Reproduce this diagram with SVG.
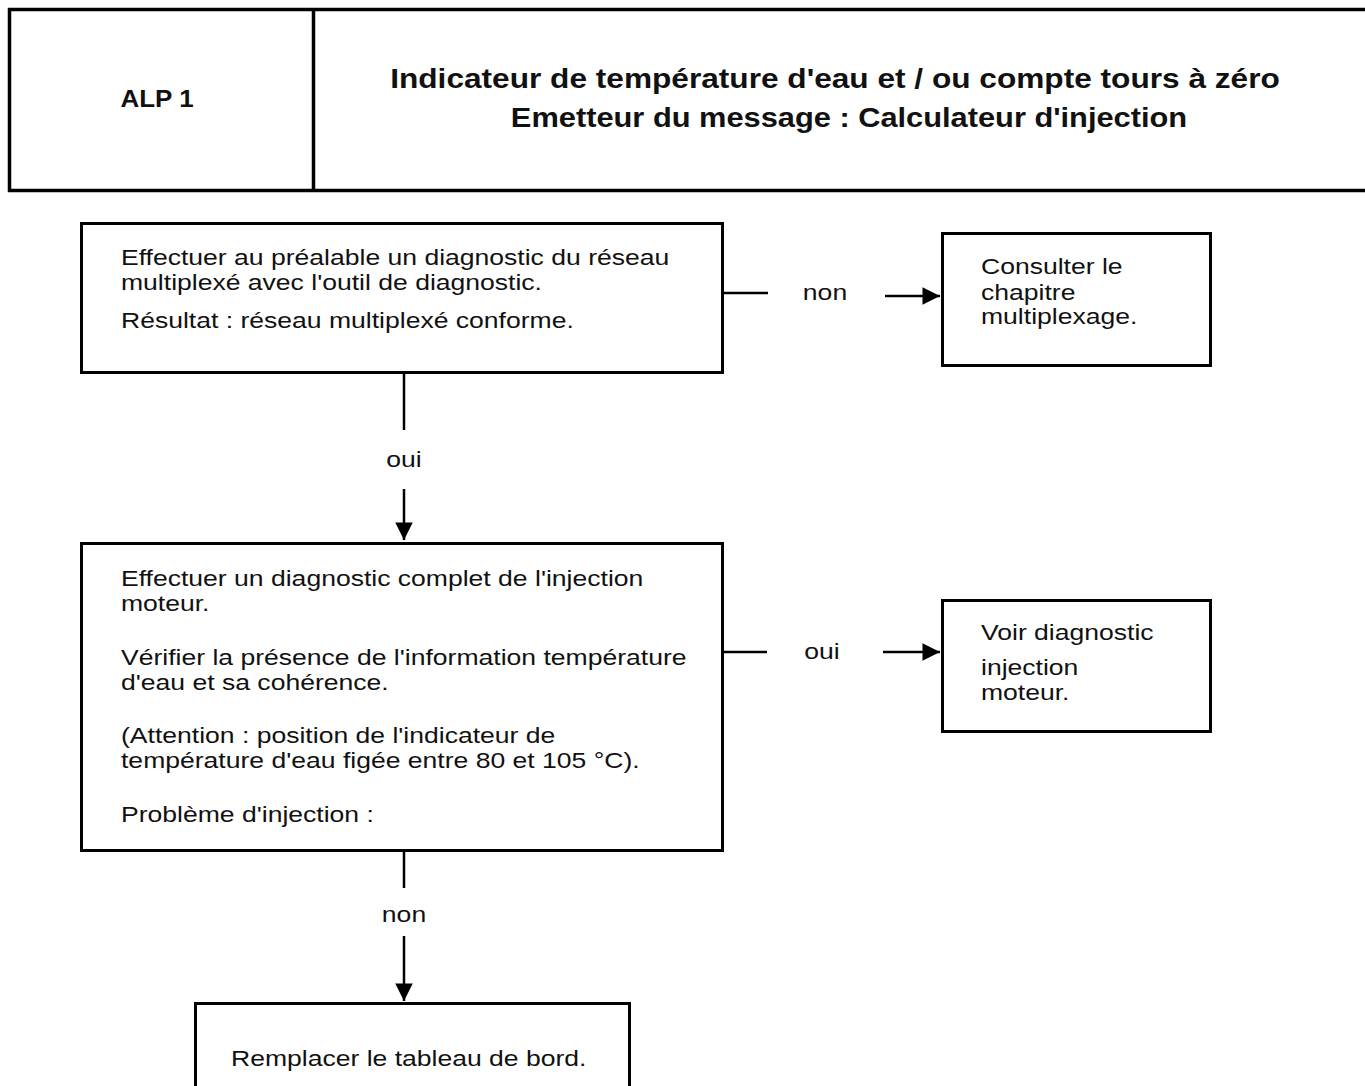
<svg xmlns="http://www.w3.org/2000/svg" width="1365" height="1086" viewBox="0 0 1365 1086">
  <style>
    .box { fill: #fff; stroke: #000; stroke-width: 3; }
    .hdr { fill: none; stroke: #000; stroke-width: 3.5; }
    .ln { stroke: #000; stroke-width: 2.5; fill: none; }
    .t { font-family: "Liberation Sans", Arial, sans-serif; font-size: 22.5px; fill: #111; }
    .h { font-family: "Liberation Sans", Arial, sans-serif; font-weight: bold; fill: #111; }
    .m { text-anchor: middle; }
  </style>
  <defs>
    <marker id="arrow" viewBox="0 0 10 10" refX="10" refY="5" markerWidth="7.2" markerHeight="7" markerUnits="strokeWidth" orient="auto">
      <path d="M0,0 L10,5 L0,10 z" fill="#000"/>
    </marker>
  </defs>
  <rect width="1365" height="1086" fill="#fff"/>

  <!-- title block; text is drawn slightly wide (scaled on x) -->
  <g id="header">
    <path class="hdr" d="M1368,9.5 H9.5 V190.5 H1368"/>
    <line class="hdr" x1="313.5" y1="9.5" x2="313.5" y2="190.5"/>
    <text class="h m" font-size="23" transform="translate(157 107) scale(1.13 1)">ALP 1</text>
    <text class="h m" font-size="28" transform="translate(835 88) scale(1.13 1)">Indicateur de température d'eau et / ou compte tours à zéro</text>
    <text class="h m" font-size="28" transform="translate(849 127) scale(1.10 1)">Emetteur du message : Calculateur d'injection</text>
  </g>

  <g id="n1">
    <rect class="box" x="81.5" y="223.5" width="641" height="149"/>
    <text class="t" transform="translate(121 265) scale(1.18 1)">Effectuer au préalable un diagnostic du réseau</text>
    <text class="t" transform="translate(121 290) scale(1.18 1)">multiplexé avec l'outil de diagnostic.</text>
    <text class="t" transform="translate(121 328) scale(1.18 1)">Résultat : réseau multiplexé conforme.</text>
  </g>

  <g id="n2">
    <rect class="box" x="942.5" y="233.5" width="268" height="132"/>
    <text class="t" transform="translate(981 274) scale(1.18 1)">Consulter le</text>
    <text class="t" transform="translate(981 300) scale(1.18 1)">chapitre</text>
    <text class="t" transform="translate(981 324) scale(1.18 1)">multiplexage.</text>
  </g>

  <g id="n3">
    <rect class="box" x="81.5" y="543.5" width="641" height="307"/>
    <text class="t" transform="translate(121 586) scale(1.18 1)">Effectuer un diagnostic complet de l'injection</text>
    <text class="t" transform="translate(121 611) scale(1.18 1)">moteur.</text>
    <text class="t" transform="translate(121 665) scale(1.18 1)">Vérifier la présence de l'information température</text>
    <text class="t" transform="translate(121 690) scale(1.18 1)">d'eau et sa cohérence.</text>
    <text class="t" transform="translate(121 743) scale(1.18 1)">(Attention : position de l'indicateur de</text>
    <text class="t" transform="translate(121 768) scale(1.18 1)">température d'eau figée entre 80 et 105 °C).</text>
    <text class="t" transform="translate(121 822) scale(1.18 1)">Problème d'injection :</text>
  </g>

  <g id="n4">
    <rect class="box" x="942.5" y="600.5" width="268" height="131"/>
    <text class="t" transform="translate(981 640) scale(1.18 1)">Voir diagnostic</text>
    <text class="t" transform="translate(981 675) scale(1.18 1)">injection</text>
    <text class="t" transform="translate(981 700) scale(1.18 1)">moteur.</text>
  </g>

  <g id="n5">
    <rect class="box" x="195.5" y="1003.5" width="434" height="100"/>
    <text class="t" transform="translate(231 1066) scale(1.18 1)">Remplacer le tableau de bord.</text>
  </g>

  <!-- connectors with their oui / non labels -->
  <g id="connectors">
    <line class="ln" x1="723" y1="293" x2="768" y2="293"/>
    <text class="t m" transform="translate(825 300) scale(1.18 1)">non</text>
    <line class="ln" x1="885" y1="296" x2="940" y2="296" marker-end="url(#arrow)"/>

    <line class="ln" x1="404" y1="373" x2="404" y2="430"/>
    <text class="t m" transform="translate(404 467) scale(1.18 1)">oui</text>
    <line class="ln" x1="404" y1="489" x2="404" y2="540" marker-end="url(#arrow)"/>

    <line class="ln" x1="723" y1="652" x2="767" y2="652"/>
    <text class="t m" transform="translate(822 659) scale(1.18 1)">oui</text>
    <line class="ln" x1="883" y1="652" x2="940" y2="652" marker-end="url(#arrow)"/>

    <line class="ln" x1="404" y1="851" x2="404" y2="888"/>
    <text class="t m" transform="translate(404 922) scale(1.18 1)">non</text>
    <line class="ln" x1="404" y1="936" x2="404" y2="1001" marker-end="url(#arrow)"/>
  </g>
</svg>
